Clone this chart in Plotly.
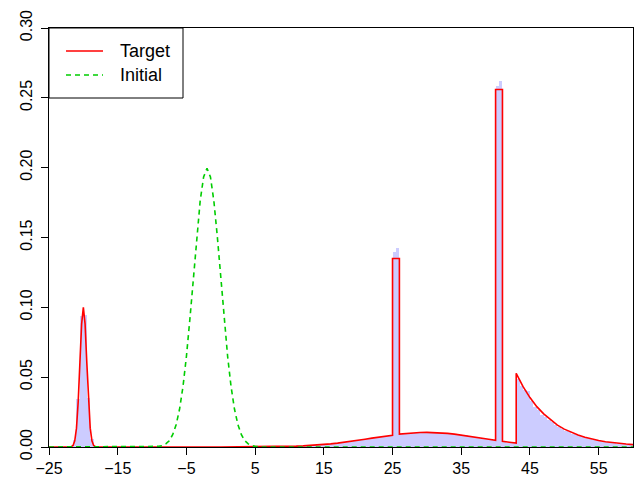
import numpy as np
import plotly.graph_objects as go

# ---------------- data ----------------
bin_width = 0.5

# histogram of samples: first peak bins start at -21.5
peak_bin_start = -21.5
peak_heights = [0.0052, 0.0345, 0.0935, 0.0942, 0.0350, 0.0056]

# histogram of samples: right part bins start at 5.0
tail_bin_start = 5.0
tail_heights = [
    0.0001, 0.0001, 0.0002, 0.0001, 0.0002, 0.0002, 0.0003, 0.0003, 0.0004, 0.0004,
    0.0005, 0.0006, 0.0007, 0.0007, 0.0009, 0.0010, 0.0012, 0.0013, 0.0014, 0.0018,
    0.0019, 0.0020, 0.0024, 0.0025, 0.0029, 0.0033, 0.0034, 0.0038, 0.0041, 0.0047,
    0.0049, 0.0052, 0.0060, 0.0058, 0.0068, 0.0073, 0.0070, 0.0079, 0.0078, 0.0085,
    0.1398, 0.1427, 0.0091, 0.0095, 0.0098, 0.0099, 0.0101, 0.0100, 0.0104, 0.0102,
    0.0103, 0.0105, 0.0101, 0.0100, 0.0098, 0.0097, 0.0094, 0.0092, 0.0088, 0.0089,
    0.0084, 0.0087, 0.0077, 0.0070, 0.0070, 0.0063, 0.0060, 0.0058, 0.0051, 0.0047,
    0.2585, 0.2620, 0.0036, 0.0030, 0.0033, 0.0027, 0.0490, 0.0440, 0.0405, 0.0402,
    0.0330, 0.0290, 0.0265, 0.0232, 0.0218, 0.0190, 0.0178, 0.0160, 0.0140, 0.0132,
    0.0118, 0.0104, 0.0096, 0.0086, 0.0078, 0.0071, 0.0062, 0.0058, 0.0050, 0.0047,
    0.0041, 0.0038, 0.0034, 0.0033, 0.0026, 0.0025, 0.0022, 0.0021, 0.0018, 0.0016,
]

# Target density curve
target_x = [-25, -22, -21.75, -21.5, -21.25, -21, -20.75, -20.5, -20.25, -20,
            -19.75, -19.5, -19.25, -19, -18.75, -18.5, -18.25, -18,
            0, 4, 6, 8, 10, 11, 12, 13, 14, 15, 16, 17, 18, 19, 20, 21, 22, 23, 24,
            25, 25, 26, 26, 27, 28, 29, 30, 31, 32, 33, 34, 35, 36, 37, 38, 39,
            40, 40, 41, 41, 42, 43, 43, 43.5, 44, 45, 46, 47, 48, 49, 50,
            51, 52, 53, 54, 55, 56, 57, 58, 59, 60]
target_y = [0.0, 0.0, 0.0002, 0.0011, 0.0044, 0.0135, 0.0325, 0.0607, 0.0882, 0.1000,
            0.0882, 0.0607, 0.0325, 0.0135, 0.0044, 0.0011, 0.0002, 0.0,
            0.00001, 0.00005, 0.00012, 0.00024, 0.00046, 0.00062, 0.00083, 0.0011,
            0.00142, 0.0018, 0.00226, 0.0028, 0.0034, 0.00407, 0.00479, 0.00556,
            0.00635, 0.00714, 0.0079,
            0.0084, 0.135, 0.135, 0.0092, 0.00976, 0.01015, 0.01039, 0.01047, 0.01039,
            0.01015, 0.00976, 0.00924, 0.00861, 0.0079, 0.00714, 0.00635, 0.00556,
            0.0048, 0.256, 0.256, 0.0041, 0.0034, 0.0028, 0.0528, 0.0478, 0.0432,
            0.0354, 0.0289, 0.0237, 0.0194, 0.0157, 0.0128,
            0.0105, 0.0086, 0.0070, 0.0057, 0.0046, 0.0038, 0.0031, 0.0025, 0.0021, 0.0017]

# Initial density curve
initial_x = [-25, -12, -10, -9, -8.5, -8, -7.5, -7, -6.5, -6, -5.5, -5, -4.5, -4, -3.5,
             -3, -2.5, -2, -1.5, -1, -0.5, 0, 0.5, 1, 1.5, 2, 2.5, 3, 3.5, 4, 4.5, 5,
             6, 8, 60]
initial_y = [0.0, 0.0, 0.00007, 0.00044, 0.0010, 0.0022, 0.0045, 0.0088, 0.0159, 0.0270,
             0.0432, 0.0648, 0.0913, 0.1210, 0.1506, 0.1760, 0.1933, 0.1995, 0.1933,
             0.1760, 0.1506, 0.1210, 0.0913, 0.0648, 0.0432, 0.0270, 0.0159, 0.0088,
             0.0045, 0.0022, 0.0010, 0.00044, 0.00007, 0.0, 0.0]

x_ticks = [-25, -15, -5, 5, 15, 25, 35, 45, 55]
y_ticks = [0.00, 0.05, 0.10, 0.15, 0.20, 0.25, 0.30]
y_tick_text = ["0.00", "0.05", "0.10", "0.15", "0.20", "0.25", "0.30"]
legend_names = ["Target", "Initial"]

# ---------------- figure ----------------
FONT = "Liberation Sans, Arial, Helvetica, sans-serif"
FS_TICK = 16
FS_LEG = 18
RED = "#FF0000"
GREEN = "#00CD00"
HIST = "#CCCCFF"

peak_centers = [peak_bin_start + bin_width * (i + 0.5) for i in range(len(peak_heights))]
tail_centers = [tail_bin_start + bin_width * (i + 0.5) for i in range(len(tail_heights))]

fig = go.Figure()
fig.add_trace(go.Bar(x=peak_centers + tail_centers, y=peak_heights + tail_heights,
                     width=bin_width, marker=dict(color=HIST, line=dict(width=0)),
                     showlegend=False, hoverinfo="skip"))
fig.add_trace(go.Scatter(x=target_x, y=target_y, mode="lines",
                         line=dict(color=RED, width=1.6), showlegend=False))
fig.add_trace(go.Scatter(x=initial_x, y=initial_y, mode="lines",
                         line=dict(color=GREEN, width=1.6, dash="5px,4px"),
                         showlegend=False))

W, H = 636, 482
L, R, T, B = 49, 3, 28, 35
pw, ph = W - L - R, H - T - B

def px(xp):
    return (xp - L) / pw

def py(yp):
    return 1 - (yp - T) / ph

shapes = [
    dict(type="rect", xref="paper", yref="paper", x0=px(49), x1=px(183), y0=py(98), y1=py(28),
         line=dict(color="black", width=1), fillcolor="white", layer="above"),
    dict(type="line", xref="paper", yref="paper", x0=px(66), x1=px(103), y0=py(51), y1=py(51),
         line=dict(color=RED, width=1.6)),
    dict(type="line", xref="paper", yref="paper", x0=px(66), x1=px(103), y0=py(75), y1=py(75),
         line=dict(color=GREEN, width=1.6, dash="5px,4px")),
]
annotations = [
    dict(text=legend_names[0], xref="paper", yref="paper", x=px(118), y=py(51),
         xanchor="left", yanchor="middle", showarrow=False,
         font=dict(family=FONT, size=FS_LEG, color="black")),
    dict(text=legend_names[1], xref="paper", yref="paper", x=px(118), y=py(75),
         xanchor="left", yanchor="middle", showarrow=False,
         font=dict(family=FONT, size=FS_LEG, color="black")),
]

fig.update_layout(
    width=W, height=H,
    margin=dict(l=L, r=R, t=T, b=B, pad=0, autoexpand=False),
    paper_bgcolor="white", plot_bgcolor="white",
    bargap=0, showlegend=False,
    font=dict(family=FONT, size=FS_TICK, color="black"),
    shapes=shapes, annotations=annotations,
    xaxis=dict(range=[-25, 60], tickmode="array", tickvals=x_ticks,
               ticks="outside", ticklen=7, tickwidth=1, tickcolor="black",
               showline=True, linecolor="black", linewidth=1, mirror=True,
               showgrid=False, zeroline=False, automargin=False,
               tickfont=dict(family=FONT, size=FS_TICK, color="black")),
    yaxis=dict(range=[0, 0.30], tickmode="array", tickvals=y_ticks, ticktext=y_tick_text,
               ticks="outside", ticklen=7, tickwidth=1, tickcolor="black",
               showline=True, linecolor="black", linewidth=1, mirror=True,
               showgrid=False, zeroline=False, tickangle=-90, automargin=False,
               ticklabelstandoff=3,
               tickfont=dict(family=FONT, size=FS_TICK, color="black")),
)

fig.write_html("out.html", config={"displayModeBar": False},
               post_script="document.body.style.margin='0px';document.body.style.padding='0px';")
